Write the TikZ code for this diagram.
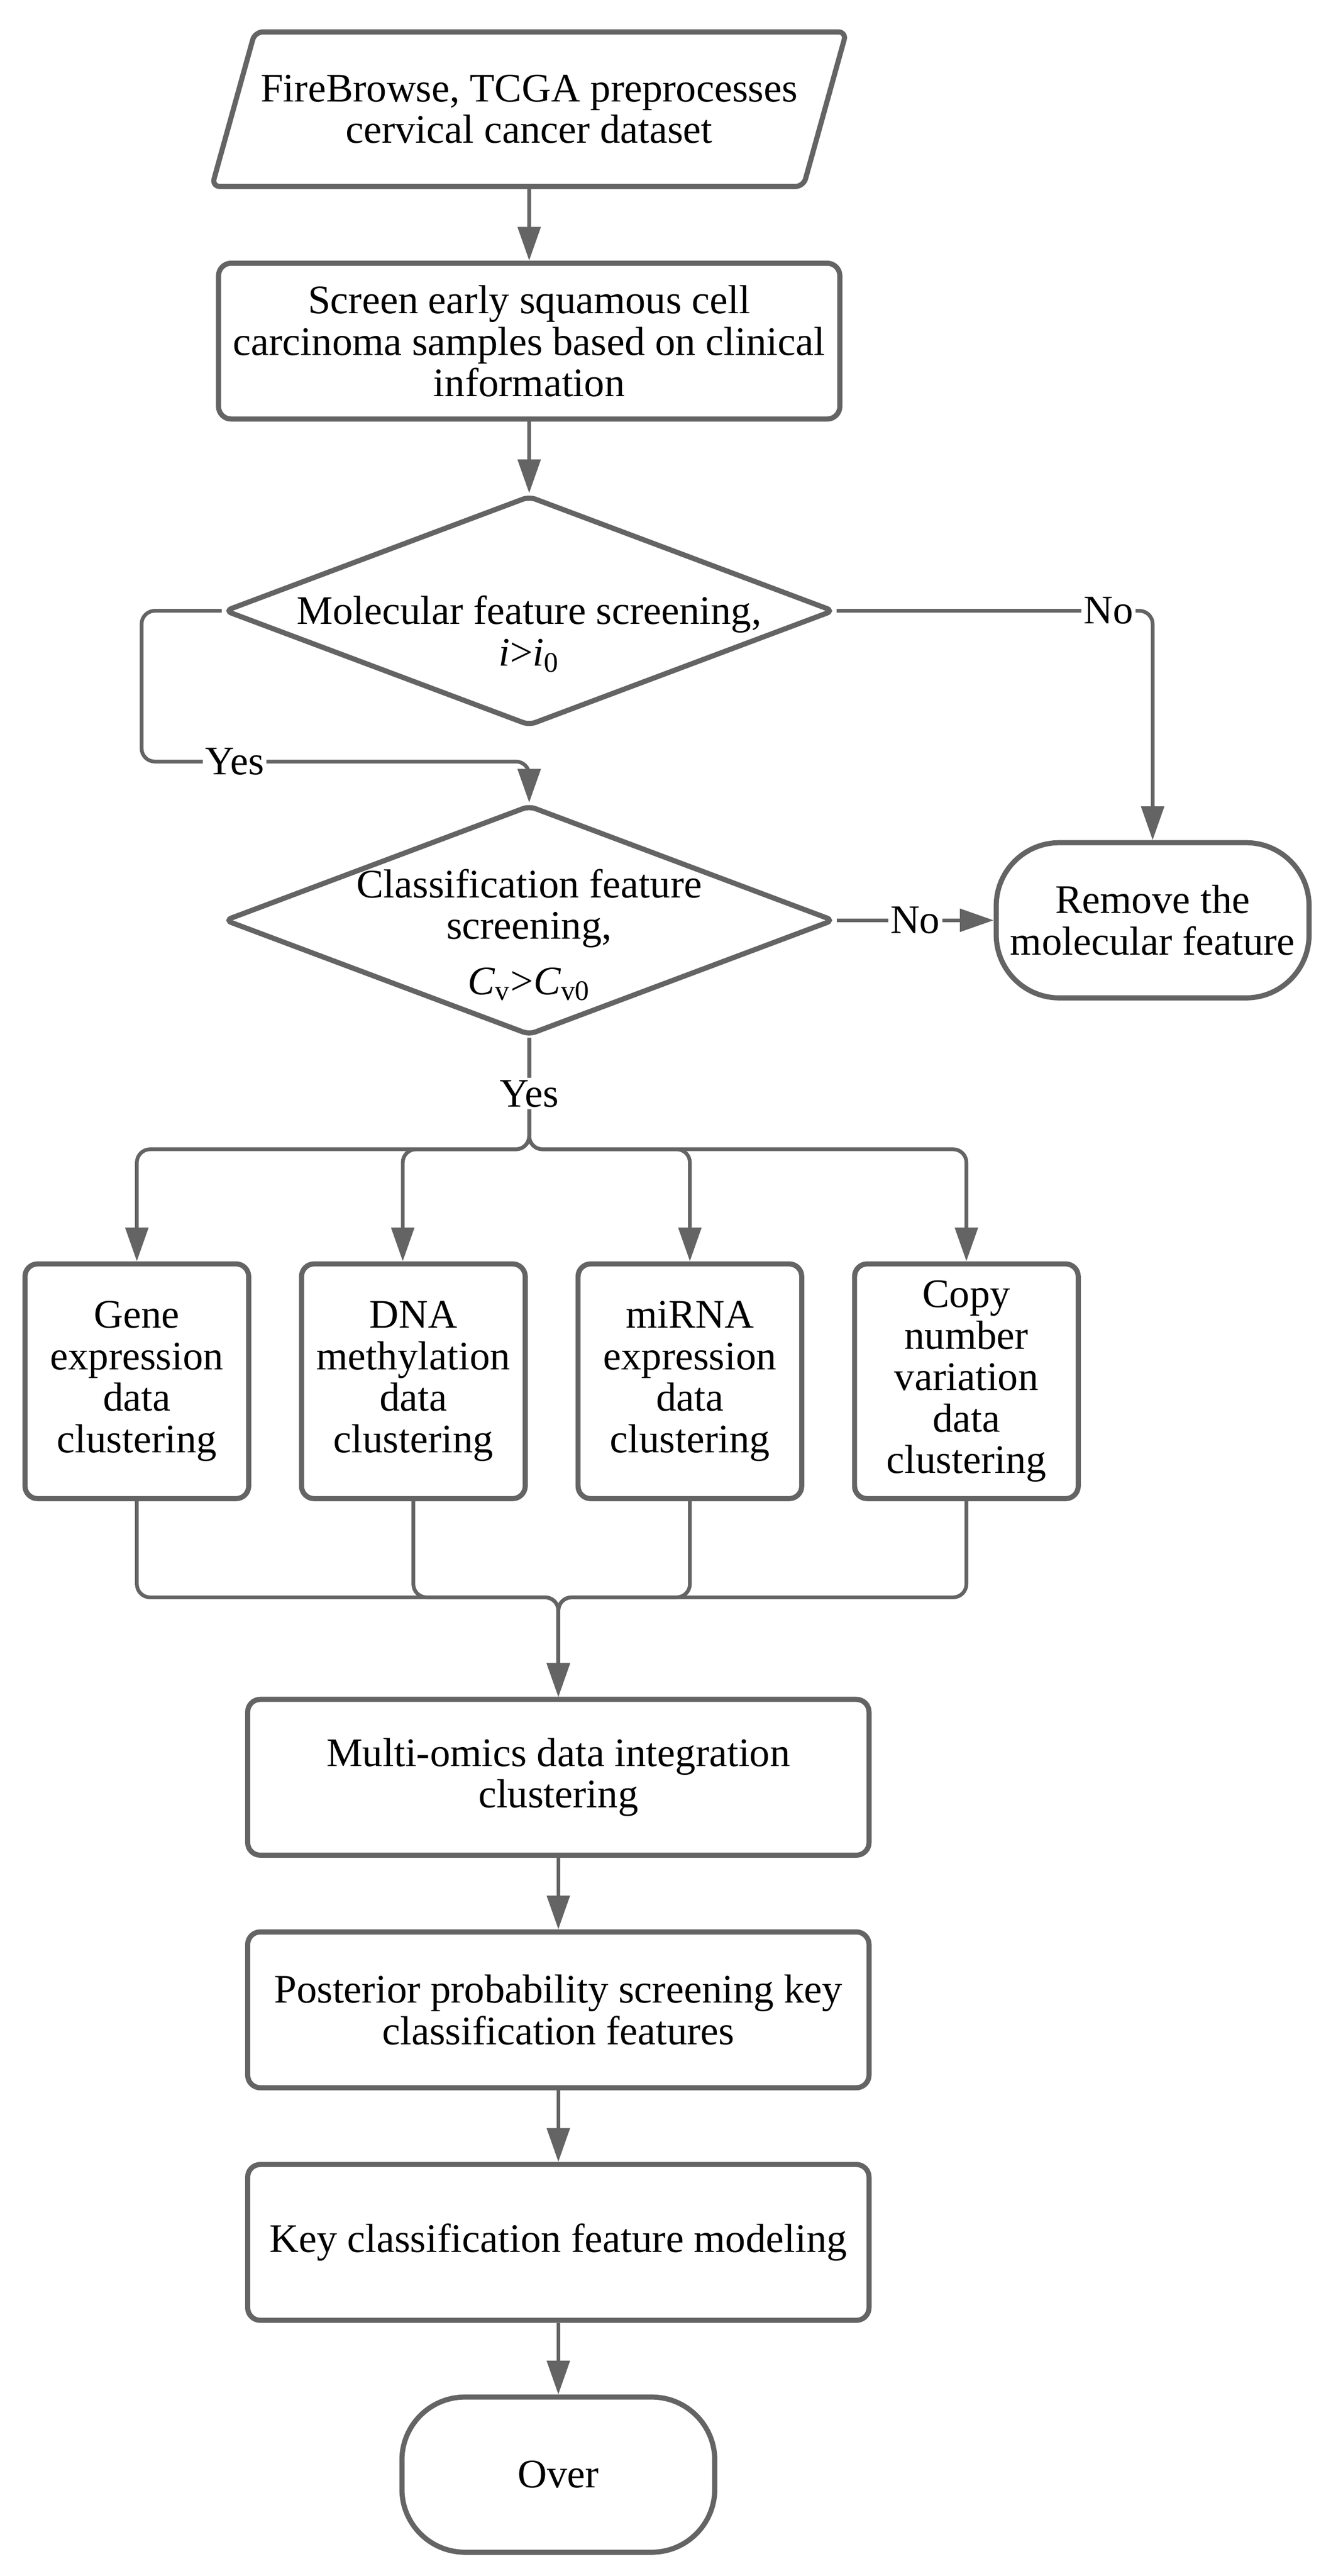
\documentclass[tikz,border=0pt]{standalone}
\usepackage{fontspec}
\setmainfont{Liberation Serif}
\usetikzlibrary{positioning, calc, shapes.geometric, arrows.meta}
\definecolor{linegray}{RGB}{100,100,100}

\begin{document}
\begin{tikzpicture}
		[font=\fontsize{17.4}{17.8}\selectfont,
		 node distance=1.08cm,
		 proc/.style = {draw=linegray, line width=2.2pt, rectangle, rounded corners=0.19cm, align=center, inner sep=2pt, minimum width=9.375cm, minimum height=2.35cm},
		 small/.style = {proc, minimum width=3.375cm, minimum height=3.54cm},
		 io/.style = {draw=linegray, line width=2.2pt, trapezium, trapezium left angle=63, trapezium right angle=117, trapezium stretches body=true, rounded corners=0.12cm, align=center, inner xsep=2.5pt, minimum width=8.9cm, minimum height=2.33cm},
		 decision/.style = {draw=linegray, line width=2.2pt, diamond, rounded corners=0.1cm, inner sep=0pt, minimum width=9.2cm, minimum height=3.47cm},
		 term/.style = {draw=linegray, line width=2.2pt, rectangle, rounded corners=0.95cm, align=center, minimum width=4.72cm, minimum height=2.34cm},
		 dtext/.style = {align=center, inner sep=0pt},
		 lbl/.style = {fill=white, inner sep=1pt},
		 arrow/.style = {draw=linegray, line width=1.6pt, -{Triangle[length=0.51cm, width=0.34cm]}}]
		\useasboundingbox (0,0) rectangle (20,-38.85);
		\node[io] (data) at (7.984,-1.647) {FireBrowse, TCGA preprocesses\\cervical cancer dataset};
		\node[proc, below=of data] (screen) {Screen early squamous cell\\carcinoma samples based on clinical\\information};
		\node[decision, below=of screen] (mol) {};
		\node[dtext] (moltext) at ([yshift=-0.35cm]mol.center) {Molecular feature screening,\\\textit{i}>\textit{i}\textsubscript{0}};
		\node[decision, below=1.12cm of mol] (cls) {};
		\node[dtext] (clstext) at ([yshift=-0.22cm]cls.center) {Classification feature\\screening,\\[6pt]\textit{C}\textsubscript{v}>\textit{C}\textsubscript{v0}};
		\node[term, right=2.37cm of cls] (remove) {Remove the\\molecular feature};
		\node[small, below=3.37cm of cls, xshift=-5.92cm] (gene) {Gene\\expression\\data\\clustering};
		\node[small, right=0.72cm of gene] (dna) {DNA\\methylation\\data\\clustering};
		\node[small, right=0.72cm of dna] (mirna) {miRNA\\expression\\data\\clustering};
		\node[small, right=0.72cm of mirna] (cnv) {Copy\\number\\variation\\data\\clustering};
		\coordinate (yesjoin) at ($(cls.north)+(0,0.62)$);
		\coordinate (split) at ($(cls.south)+(0,-1.68)$);
		\coordinate (merge) at ($(gene.south -| cls.south)+(0.44,-1.45)$);
		\node[proc, below=1.5cm of merge] (multi) {Multi-omics data integration\\clustering};
		\node[proc, below=of multi] (post) {Posterior probability screening key\\classification features};
		\node[proc, below=of post] (model) {Key classification feature modeling};
		\node[term, below=of model] (over) {Over};

		\draw[arrow] (data) -- (screen);
		\draw[arrow] (screen) -- (mol);
		\draw[arrow, rounded corners=0.2cm] (mol.west) -- ++(-1.21,0) |- node[lbl, pos=0.62] (yesa) {Yes} (yesjoin) -- (cls.north);
		\draw[arrow, rounded corners=0.2cm] (mol.east) -| node[lbl, pos=0.43] (noa) {No} (remove.north);
		\draw[arrow] (cls.east) -- node[lbl] (nob) {No} (remove.west);
		\draw[arrow, rounded corners=0.2cm] (cls.south) -- (split) -| (gene.north);
		\draw[arrow, rounded corners=0.2cm] (cls.south) -- (split) -| ([xshift=-0.16cm]dna.north);
		\draw[arrow, rounded corners=0.2cm] (cls.south) -- (split) -| (mirna.north);
		\draw[arrow, rounded corners=0.2cm] (cls.south) -- (split) -| (cnv.north);
		\path (cls.south) -- node[lbl] (yesb) {Yes} (split);
		\draw[arrow, rounded corners=0.2cm] (gene.south) |- (merge) -- (multi.north);
		\draw[arrow, rounded corners=0.2cm] (dna.south) |- (merge) -- (multi.north);
		\draw[arrow, rounded corners=0.2cm] (mirna.south) |- (merge) -- (multi.north);
		\draw[arrow, rounded corners=0.2cm] (cnv.south) |- (merge) -- (multi.north);
		\draw[arrow] (multi) -- (post);
		\draw[arrow] (post) -- (model);
		\draw[arrow] (model) -- (over);
	\end{tikzpicture}
\end{document}
